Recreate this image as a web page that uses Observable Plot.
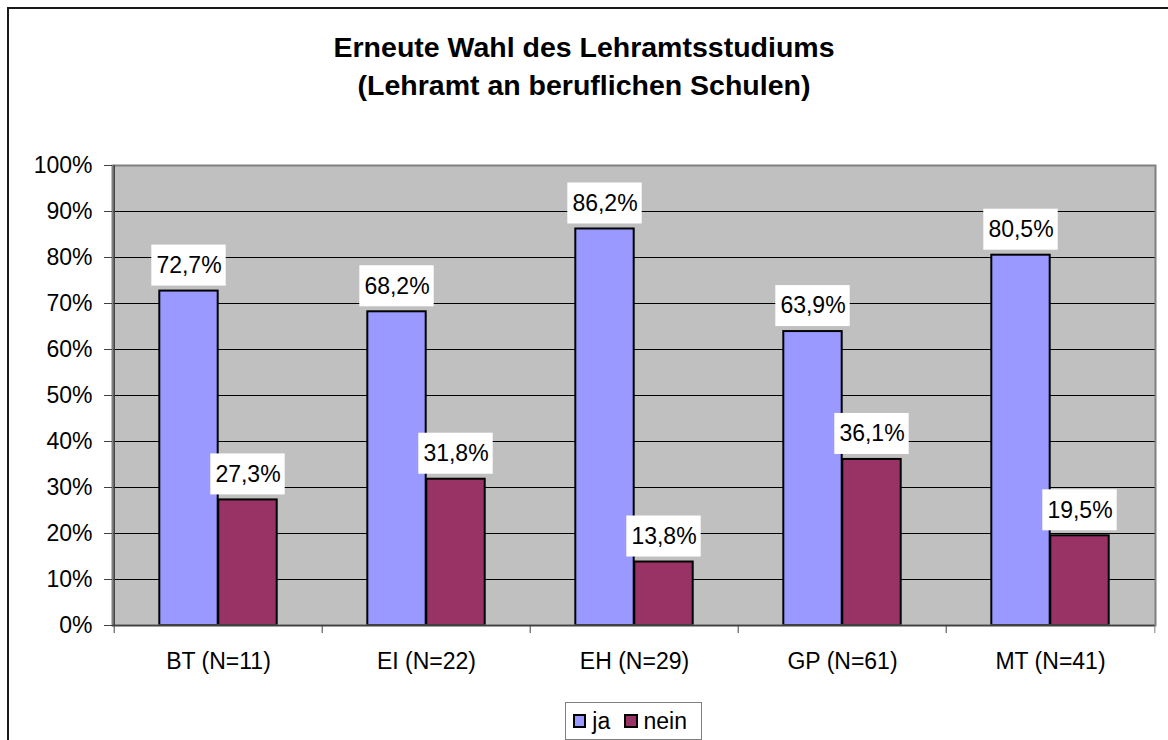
<!DOCTYPE html>
<html>
<head>
<meta charset="utf-8">
<script src="https://cdn.jsdelivr.net/npm/d3@7"></script>
<script src="https://cdn.jsdelivr.net/npm/@observablehq/plot@0.6"></script>
<style>
  body { margin: 0; background: #fff; font-family: "Liberation Sans", Arial, sans-serif; }
  #wrap { position: relative; width: 1168px; height: 740px; overflow: hidden; background: #fff; }
  #border { position: absolute; left: 7px; top: 7px; width: 1300px; height: 900px;
            border-left: 2px solid #1a1a1a; border-top: 2px solid #1a1a1a; }
  #chart { position: absolute; left: 0; top: 0; }
  .title { position: absolute; left: 0; width: 1168px; text-align: center; font-weight: bold;
           font-size: 28.5px; line-height: 28.5px; color: #000; white-space: nowrap; }
  #legend { position: absolute; left: 565px; top: 702px; width: 137px; height: 38px; box-sizing: border-box;
            border: 1.5px solid #808080; background: #fff; display: flex; align-items: center;
            padding-left: 7px; font-size: 23px; color: #000; }
  .sw { width: 15px; height: 14px; box-sizing: border-box; border: 2px solid #000; margin-right: 6px; }
  .lt { margin-right: 14px; line-height: 23px; }
</style>
</head>
<body>
<div id="wrap">
  <div id="border"></div>
  <div id="chart"></div>
  <div id="legend"></div>
</div>
<script>
// ---- data ----
const categories = ["BT (N=11)", "EI (N=22)", "EH (N=29)", "GP (N=61)", "MT (N=41)"];
const jaValues   = [72.7, 68.2, 86.2, 63.9, 80.5];
const neinValues = [27.3, 31.8, 13.8, 36.1, 19.5];
const seriesNames = ["ja", "nein"];
const seriesColors = ["#9999ff", "#993366"];
const yTicks = [0, 10, 20, 30, 40, 50, 60, 70, 80, 90, 100];
const titleLines = ["Erneute Wahl des Lehramtsstudiums", "(Lehramt an beruflichen Schulen)"];

// ---- build ----
const seriesValues = [jaValues, neinValues];
const rows = seriesNames.map((s, k) => categories.map((c, i) => ({cat: c, s, v: seriesValues[k][i]})));
const fmt = v => v.toFixed(1).replace(".", ",") + "%";

const W = 1168, H = 740, mL = 112, mR = 13, mT = 165, mB = 115;
const band = (W - mL - mR) / categories.length;
const barW = 59, boxW = 75;
const off = barW / 2;
const font = '"Liberation Sans", Arial, sans-serif';

const seriesMarks = seriesNames.map((s, k) => {
  const dx = k === 0 ? -off : off;
  return Plot.barY(rows[k], {x: "cat", y: "v", fill: seriesColors[k], stroke: "#000", strokeWidth: 2,
      insetLeft: (band - barW) / 2, insetRight: (band - barW) / 2, dx});
});
const labelMarks = seriesNames.flatMap((s, k) => {
  const dx = k === 0 ? -off : off;
  return [
    Plot.barY(rows[k], {x: "cat", y1: "v", y2: "v", fill: "#fff",
      insetLeft: (band - boxW) / 2, insetRight: (band - boxW) / 2, insetTop: -46, insetBottom: 5, dx}),
    Plot.text(rows[k], {x: "cat", y: "v", text: d => fmt(d.v), dx, dy: -25.5, fontSize: 23,
      lineAnchor: "middle", fill: "#000"})
  ];
});

const chart = Plot.plot({
  width: W, height: H,
  marginLeft: mL, marginRight: mR, marginTop: mT, marginBottom: mB,
  style: {fontFamily: font, fontSize: "23px", color: "#000", background: "transparent", overflow: "visible"},
  x: {domain: categories, padding: 0, label: null, axis: null},
  y: {domain: [0, 100], label: null, axis: null},
  marks: [
    Plot.frame({fill: "#c0c0c0"}),
    Plot.ruleY(yTicks.filter(t => t > 0 && t < 100), {stroke: "#000", strokeWidth: 1}),
    ...seriesMarks,
    Plot.frame({stroke: "#808080", strokeWidth: 2}),
    Plot.ruleY([0], {stroke: "#404040", strokeWidth: 1.5}),
    Plot.ruleX([categories[0]], {dx: -band / 2, stroke: "#404040", strokeWidth: 1.5}),
    Plot.axisY({ticks: yTicks, tickSize: 8, tickPadding: 12, tickFormat: d => d + "%", fontSize: 23, stroke: "#404040", fill: "#000"}),
    Plot.axisX({ticks: categories, tickSize: 8, tickFormat: () => "", dx: -band / 2, stroke: "#404040"}),
    Plot.axisX({ticks: [categories[categories.length - 1]], tickSize: 8, tickFormat: () => "", dx: band / 2, stroke: "#808080"}),
    Plot.axisX({ticks: categories, tickSize: 0, tickPadding: 27, fontSize: 23, fill: "#000"}),
    ...labelMarks
  ]
});
document.getElementById("chart").appendChild(chart);

// title
const wrap = document.getElementById("wrap");
titleLines.forEach((t, i) => {
  const d = document.createElement("div");
  d.className = "title";
  d.style.top = (33 + i * 38) + "px";
  d.textContent = t;
  wrap.appendChild(d);
});

// legend
const legend = document.getElementById("legend");
seriesNames.forEach((s, k) => {
  const sw = document.createElement("span");
  sw.className = "sw";
  sw.style.background = seriesColors[k];
  const lt = document.createElement("span");
  lt.className = "lt";
  lt.textContent = s;
  legend.appendChild(sw);
  legend.appendChild(lt);
});
</script>
</body>
</html>
